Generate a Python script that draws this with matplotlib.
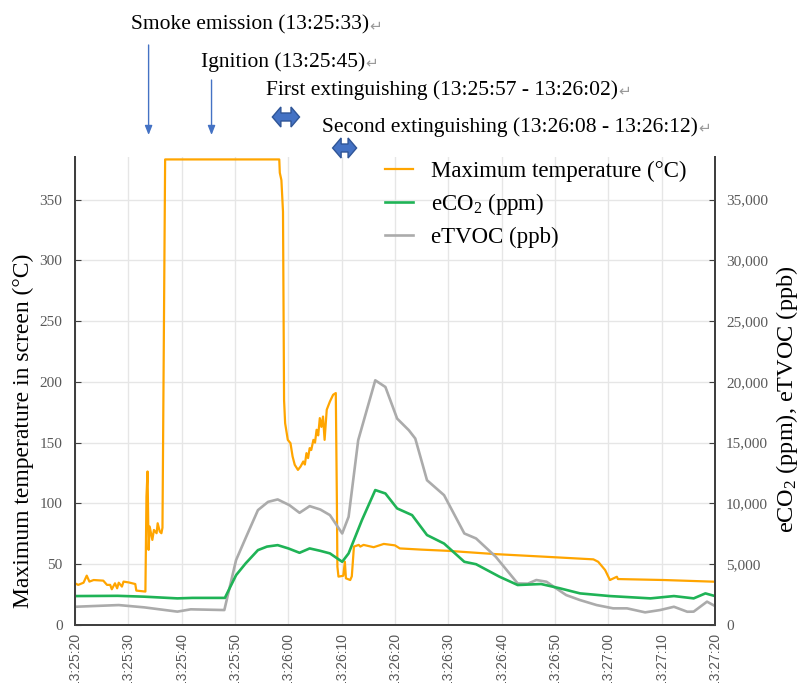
import matplotlib
matplotlib.use("Agg")
import matplotlib.pyplot as plt
import matplotlib.transforms as mtransforms
from matplotlib.patches import Polygon
from matplotlib.ticker import FuncFormatter, MultipleLocator

plt.rcParams['font.family'] = ['Liberation Serif', 'DejaVu Sans']
plt.rcParams['mathtext.fontset'] = 'custom'
plt.rcParams['mathtext.rm'] = 'Liberation Serif'
plt.rcParams['mathtext.it'] = 'Liberation Serif:italic'

# ---------------- data (seconds after 13:25:20) ----------------
temp_t = [0, 0.6, 1.6, 2.2, 2.7, 3.5, 5.3, 6.0, 6.6, 6.9, 7.5, 7.9, 8.2, 8.8, 9.1, 10.1,
          11.3, 11.5, 13.2, 13.4, 13.6, 13.8, 14.0, 14.5, 14.8, 15.3, 15.5, 15.9, 16.2,
          16.4, 16.9, 38.3, 38.4, 38.7, 39.0, 39.2, 39.4, 39.9, 40.4, 40.8, 41.2, 41.8,
          42.3, 42.8, 43.1, 43.4, 43.7, 44.0, 44.3, 44.7, 45.0, 45.3, 45.6, 45.9, 46.2,
          46.5, 46.8, 47.2, 47.8, 48.4, 48.9, 49.1, 49.2, 49.4, 50.3, 50.6, 50.8, 51.6,
          51.9, 52.3, 53.2, 53.5, 54.1, 56.0, 57.9, 60.0, 60.9, 65.0, 70.0, 72.6, 78.9,
          88.4, 97.2, 98.1, 99.4, 100.3, 101.6, 101.8, 110.4, 120]
temp_max = [34.3, 33.0, 34.8, 40.6, 35.7, 37.0, 36.5, 33.0, 33.0, 29.4, 34.3, 30.2, 34.8,
            31.6, 35.7, 35.0, 33.7, 28.3, 27.5, 105.7, 126.3, 61.8, 81.0, 70.0, 78.2,
            75.5, 83.7, 76.8, 75.5, 80.0, 383, 383, 372, 366, 340, 185, 166, 152.3,
            149.6, 138.6, 131.8, 127.6, 130.4, 134.5, 132.0, 141.4, 137.3, 145.5, 144.0,
            152.3, 150.0, 160.6, 156.0, 170.2, 163.0, 171.5, 152.3, 177.1, 183.9, 189.4,
            190.8, 102.9, 48.0, 39.8, 40.5, 52.1, 38.4, 37.0, 40.0, 64.5, 65.9, 64.5,
            65.9, 64.0, 66.7, 65.5, 63.0, 62.0, 61.0, 60.2, 58.3, 56.1, 54.0, 52.0,
            45.2, 37.0, 39.7, 37.8, 37.0, 35.6]

eco2_t = [0, 8, 13, 19.2, 22, 28.1, 30.2, 32, 34.3, 36, 38, 40, 42.1, 44, 46, 47.8, 50.1,
          51.3, 53.8, 56.3, 58.2, 60.4, 63.2, 66, 69.2, 73, 75.2, 79.6, 83, 87.4, 90.9,
          94.7, 100.3, 107.9, 112.3, 116, 118.2, 120]
eco2 = [2380, 2400, 2330, 2190, 2230, 2230, 4100, 5070, 6160, 6450, 6570, 6300, 5940,
        6300, 6100, 5890, 5200, 5890, 8630, 11100, 10820, 9590, 9040, 7400, 6700, 5200,
        5000, 3970, 3290, 3370, 3020, 2600, 2380, 2190, 2380, 2190, 2600, 2380]

etvoc_t = [0, 8.2, 13, 19.2, 21.7, 28, 30.2, 32.1, 34.3, 36.2, 38, 40.2, 42.1, 44, 46,
           47.8, 50.1, 51.3, 53.1, 54.7, 56.3, 58.2, 60.4, 62.6, 63.8, 66, 69.2, 73,
           75.2, 78.9, 83, 84.9, 86.5, 88.4, 90.2, 92.1, 94.7, 97.8, 100.9, 103.5, 106.9,
           109.7, 112.3, 114.8, 116, 118.5, 120]
etvoc = [1500, 1640, 1450, 1100, 1290, 1230, 5340, 7260, 9450, 10130, 10330, 9860, 9230,
         9780, 9500, 9040, 7530, 8900, 15200, 17670, 20130, 19580, 16980, 16020, 15340,
         11910, 10680, 7530, 7120, 5610, 3420, 3400, 3700, 3560, 3020, 2460, 2050, 1640,
         1370, 1370, 1040, 1230, 1500, 1090, 1100, 1920, 1560]

x_tick_labels = ["13:25:20", "13:25:30", "13:25:40", "13:25:50", "13:26:00", "13:26:10",
                 "13:26:20", "13:26:30", "13:26:40", "13:26:50", "13:27:00", "13:27:10",
                 "13:27:20"]

series_labels = ["Maximum temperature (\u00b0C)", "eCO$_2$ (ppm)", "eTVOC (ppb)"]

point_events = ["Smoke emission (13:25:33)", "Ignition (13:25:45)"]
point_event_t = [13.8, 25.6]
range_events = ["First extinguishing (13:25:57 - 13:26:02)",
                "Second extinguishing (13:26:08 - 13:26:12)"]
range_event_t = [(37.0, 42.1), (48.3, 52.8)]


def to_sec(s):
    h, m, sec = (int(v) for v in s.split(":"))
    return (h * 3600 + m * 60 + sec) - (13 * 3600 + 25 * 60 + 20)


x_tick_pos = [to_sec(s) for s in x_tick_labels]

# ---------------- figure ----------------
W, H = 801, 683
fig = plt.figure(figsize=(W / 100, H / 100), dpi=100)
ax = fig.add_axes([75 / W, 58 / H, 640 / W, 468 / H])
ax2 = ax.twinx()

c_temp = '#FFA500'
c_co2 = '#1FB356'
c_voc = '#ABABAB'
tick_col = '#595959'
spine_col = '#404040'

l1, = ax.plot(temp_t, temp_max, color=c_temp, lw=1.6, zorder=3)
l2, = ax2.plot(eco2_t, eco2, color=c_co2, lw=1.9, zorder=2)
l3, = ax2.plot(etvoc_t, etvoc, color=c_voc, lw=1.9, zorder=1)

ax.set_xlim(0, 120)
ax.set_ylim(0, 385)
ax2.set_ylim(0, 38500)

ax.set_xticks(x_tick_pos)
ax.set_xticklabels(x_tick_labels, rotation=90, fontfamily='Liberation Sans',
                   fontsize=10, color=tick_col)
ax.tick_params(axis='x', length=0, pad=6)

ax.yaxis.set_major_locator(MultipleLocator(50))
ax.tick_params(axis='y', direction='in', length=4, color=spine_col, labelsize=11,
               labelcolor=tick_col, pad=9)
ax2.yaxis.set_major_locator(MultipleLocator(5000))
ax2.yaxis.set_major_formatter(FuncFormatter(lambda v, p: f"{v:,.0f}"))
ax2.tick_params(axis='y', direction='in', length=4, color=spine_col, labelsize=11,
                labelcolor=tick_col, pad=8)

ax.grid(True, color='#E6E6E6', lw=1)
ax.set_axisbelow(True)

for a in (ax, ax2):
    a.spines['top'].set_visible(False)
    for s in ('left', 'right', 'bottom'):
        a.spines[s].set_color(spine_col)
        a.spines[s].set_linewidth(1.4)

ax.set_ylabel("Maximum temperature in screen (\u00b0C)", fontsize=17)
ax.yaxis.set_label_coords((23 - 75) / 640, (625 - 431) / 468)
ax.yaxis.label.set_va('center')
ax2.set_ylabel("eCO$_2$ (ppm), eTVOC (ppb)", fontsize=17.5)
ax2.yaxis.set_label_coords((787 - 75) / 640, (625 - 399) / 468)
ax2.yaxis.label.set_va('center')

leg = ax2.legend([l1, l2, l3], series_labels, loc='upper left',
                 bbox_to_anchor=((385 - 75) / 640, (625 - 161) / 468),
                 frameon=False, fontsize=16.5, handlelength=1.2, handletextpad=0.8,
                 labelspacing=0.4, borderpad=0, borderaxespad=0)

# ---------------- event annotations ----------------
trans = mtransforms.blended_transform_factory(ax.transData, ax.transAxes)
blue = '#4472C4'
dark_blue = '#2F5597'


def yfrac(ypix):
    return (625 - ypix) / 468


def label_with_mark(text, xfrac, ypix):
    t = ax.text(xfrac, yfrac(ypix), text, transform=ax.transAxes, ha='left',
                va='center', fontsize=15.5, color='black', clip_on=False)
    ax.annotate('\u21b5', xy=(1, 0.45), xycoords=t, ha='left', va='center',
                fontsize=11, color='#9A9A9A', family=['DejaVu Sans'],
                annotation_clip=False)
    return t


text_pos = [((131 - 75) / 640, 25), ((201 - 75) / 640, 62)]
arrow_top = [45, 80]
for name, tx, (xf, yp), top in zip(point_events, point_event_t, text_pos, arrow_top):
    label_with_mark(name, xf, yp)
    ax.annotate('', xy=(tx, yfrac(135)), xycoords=trans,
                xytext=(tx, yfrac(top)), textcoords=trans,
                arrowprops=dict(arrowstyle='-|>,head_length=0.55,head_width=0.22',
                                color=blue, lw=1.0, shrinkA=0, shrinkB=0),
                annotation_clip=False)

range_text_pos = [((266 - 75) / 640, 90), ((322 - 75) / 640, 127)]
range_arrow_y = [117, 148]
head_len = 1.6            # seconds (arrow head length)
head_half = 10 / 468      # axes fraction
shaft_half = 4 / 468
for name, (t0, t1), (xf, yp), ay in zip(range_events, range_event_t, range_text_pos,
                                       range_arrow_y):
    label_with_mark(name, xf, yp)
    yc = yfrac(ay)
    verts = [(t0, yc), (t0 + head_len, yc + head_half), (t0 + head_len, yc + shaft_half),
             (t1 - head_len, yc + shaft_half), (t1 - head_len, yc + head_half), (t1, yc),
             (t1 - head_len, yc - head_half), (t1 - head_len, yc - shaft_half),
             (t0 + head_len, yc - shaft_half), (t0 + head_len, yc - head_half)]
    ax.add_patch(Polygon(verts, closed=True, transform=trans, fc=blue, ec=dark_blue,
                         lw=1.0, clip_on=False, zorder=5))

fig.savefig("out.png", dpi=100)
